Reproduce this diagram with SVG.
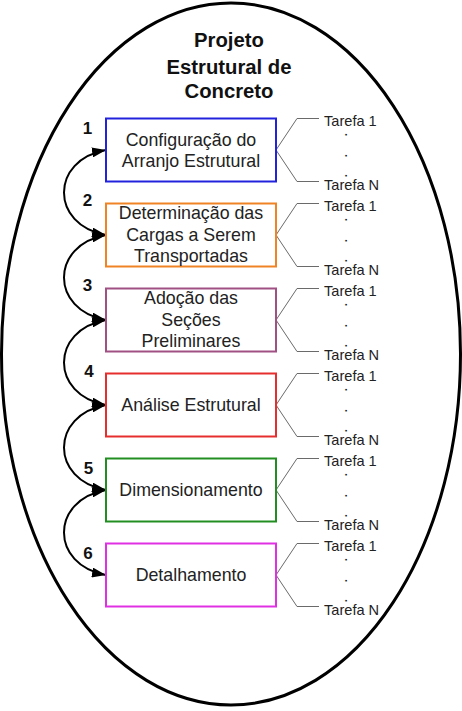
<svg xmlns="http://www.w3.org/2000/svg" width="462" height="711" viewBox="0 0 462 711">
<defs>
<style>
.title{font-family:"Liberation Sans",Arial,sans-serif;font-weight:bold;font-size:20.3px;fill:#111;text-anchor:middle}
.lbl{font-family:"Liberation Sans",Arial,sans-serif;font-size:17.8px;fill:#222;text-anchor:middle}
.num{font-family:"Liberation Sans",Arial,sans-serif;font-weight:bold;font-size:17px;fill:#111;text-anchor:middle}
.task{font-family:"Liberation Sans",Arial,sans-serif;font-size:14.6px;fill:#222}
.dot{font-family:"Liberation Sans",Arial,sans-serif;font-size:6px;fill:#222;stroke:#222;stroke-width:1;text-anchor:middle}
.box{fill:#fff;stroke-width:2}
.branch{fill:none;stroke:#6a6a6a;stroke-width:1}
.arc{fill:none;stroke:#000;stroke-width:2}
</style>
<marker id="ah" viewBox="0 0 14 10" refX="14" refY="5" markerWidth="14" markerHeight="10" markerUnits="userSpaceOnUse" orient="auto-start-reverse">
<path d="M0,0 L14,5 L0,10 z" fill="#000"/>
</marker>
</defs>
<rect width="462" height="711" fill="#fff"/>
<ellipse id="boundary" cx="231" cy="354" rx="229.5" ry="351" fill="none" stroke="#000" stroke-width="3"/>
<g id="title">
<text class="title" x="229" y="47">Projeto</text>
<text class="title" x="229" y="74">Estrutural de</text>
<text class="title" x="229" y="97.5">Concreto</text>
</g>
<g id="connectors">
<path class="arc" marker-start="url(#ah)" marker-end="url(#ah)" d="M106,150 C50,160 50,225 106,235"/>
<path class="arc" marker-start="url(#ah)" marker-end="url(#ah)" d="M106,235 C50,245 50,310 106,320"/>
<path class="arc" marker-start="url(#ah)" marker-end="url(#ah)" d="M106,320 C50,330 50,395 106,405"/>
<path class="arc" marker-start="url(#ah)" marker-end="url(#ah)" d="M106,405 C50,415 50,480 106,490"/>
<path class="arc" marker-start="url(#ah)" marker-end="url(#ah)" d="M106,490 C50,500 50,565 106,575"/>
<path class="branch" d="M276,150 L297,118.5 L319,118.5 M276,150 L297,181.5 L319,181.5"/>
<path class="branch" d="M276,235 L297,203.5 L319,203.5 M276,235 L297,266.5 L319,266.5"/>
<path class="branch" d="M276,320 L297,288.5 L319,288.5 M276,320 L297,351.5 L319,351.5"/>
<path class="branch" d="M276,405 L297,373.5 L319,373.5 M276,405 L297,436.5 L319,436.5"/>
<path class="branch" d="M276,490 L297,458.5 L319,458.5 M276,490 L297,521.5 L319,521.5"/>
<path class="branch" d="M276,575 L297,543.5 L319,543.5 M276,575 L297,606.5 L319,606.5"/>
</g>
<g id="step1">
<rect class="box" x="106" y="118.5" width="170" height="63" stroke="#2222dd"/>
<text class="num" x="87.5" y="134">1</text>
<text class="lbl" x="191" y="145.5">Configuração do</text>
<text class="lbl" x="191" y="166.5">Arranjo Estrutural</text>
<text class="task" x="324" y="126">Tarefa 1</text>
<text class="dot" x="346" y="135">.</text>
<text class="dot" x="346" y="155.5">.</text>
<text class="dot" x="346" y="175.5">.</text>
<text class="task" x="324" y="190">Tarefa N</text>
</g>
<g id="step2">
<rect class="box" x="106" y="203.5" width="170" height="63" stroke="#f08424"/>
<text class="num" x="87.5" y="205.5">2</text>
<text class="lbl" x="191" y="219">Determinação das</text>
<text class="lbl" x="191" y="240.5">Cargas a Serem</text>
<text class="lbl" x="191" y="262">Transportadas</text>
<text class="task" x="324" y="211">Tarefa 1</text>
<text class="dot" x="346" y="220">.</text>
<text class="dot" x="346" y="240.5">.</text>
<text class="dot" x="346" y="260.5">.</text>
<text class="task" x="324" y="275">Tarefa N</text>
</g>
<g id="step3">
<rect class="box" x="106" y="288.5" width="170" height="63" stroke="#a05082"/>
<text class="num" x="87.5" y="290.5">3</text>
<text class="lbl" x="191" y="304">Adoção das</text>
<text class="lbl" x="191" y="325.5">Seções</text>
<text class="lbl" x="191" y="347">Preliminares</text>
<text class="task" x="324" y="296">Tarefa 1</text>
<text class="dot" x="346" y="305">.</text>
<text class="dot" x="346" y="325.5">.</text>
<text class="dot" x="346" y="345.5">.</text>
<text class="task" x="324" y="360">Tarefa N</text>
</g>
<g id="step4">
<rect class="box" x="106" y="373.5" width="170" height="63" stroke="#e62e2e"/>
<text class="num" x="89" y="376.5">4</text>
<text class="lbl" x="191" y="411">Análise Estrutural</text>
<text class="task" x="324" y="381">Tarefa 1</text>
<text class="dot" x="346" y="390">.</text>
<text class="dot" x="346" y="410.5">.</text>
<text class="dot" x="346" y="430.5">.</text>
<text class="task" x="324" y="445">Tarefa N</text>
</g>
<g id="step5">
<rect class="box" x="106" y="458.5" width="170" height="63" stroke="#228e22"/>
<text class="num" x="88.5" y="474">5</text>
<text class="lbl" x="191" y="496">Dimensionamento</text>
<text class="task" x="324" y="466">Tarefa 1</text>
<text class="dot" x="346" y="475">.</text>
<text class="dot" x="346" y="495.5">.</text>
<text class="dot" x="346" y="515.5">.</text>
<text class="task" x="324" y="530">Tarefa N</text>
</g>
<g id="step6">
<rect class="box" x="106" y="543.5" width="170" height="63" stroke="#e030e4"/>
<text class="num" x="88" y="559">6</text>
<text class="lbl" x="191" y="581">Detalhamento</text>
<text class="task" x="324" y="551">Tarefa 1</text>
<text class="dot" x="346" y="560">.</text>
<text class="dot" x="346" y="580.5">.</text>
<text class="dot" x="346" y="600.5">.</text>
<text class="task" x="324" y="615">Tarefa N</text>
</g>
</svg>
